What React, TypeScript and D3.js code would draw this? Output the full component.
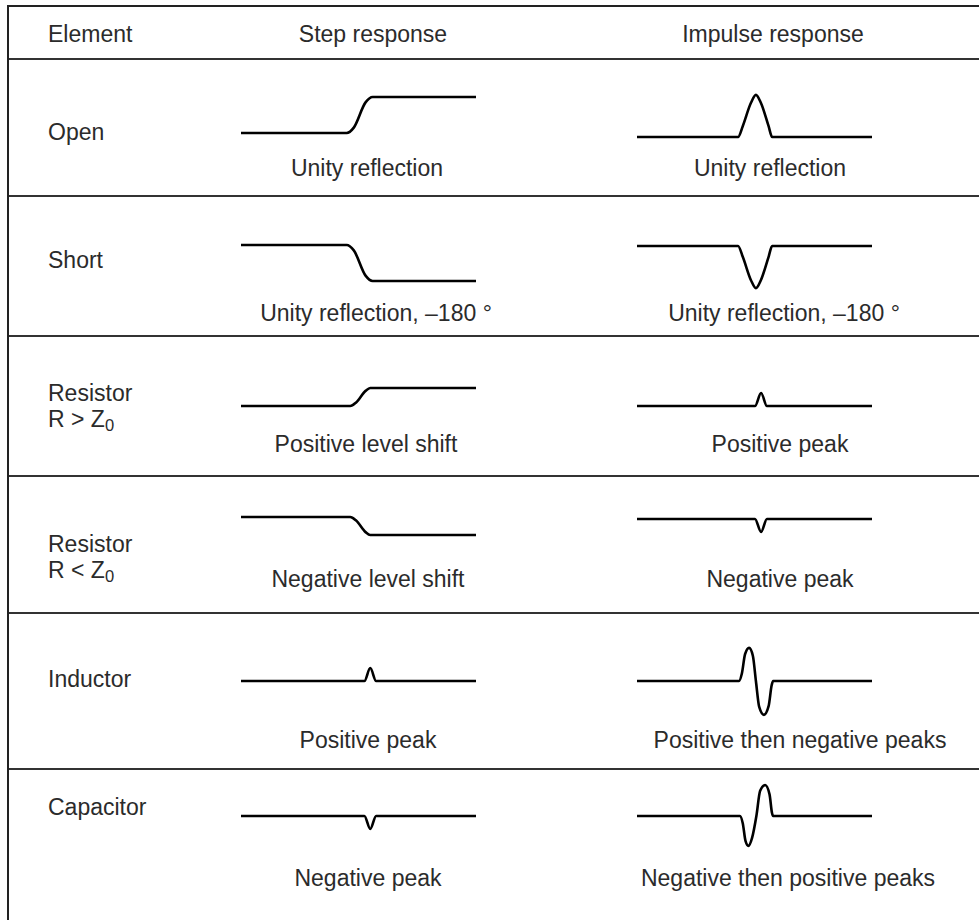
import { useEffect, useRef } from "react";
import * as d3 from "d3";

type Pt = [number, number];

// Table text
const headers = ["Element", "Step response", "Impulse response"];
const elementLabels: string[][] = [
  ["Open"],
  ["Short"],
  ["Resistor", "R > Z_0"],
  ["Resistor", "R < Z_0"],
  ["Inductor"],
  ["Capacitor"],
];
const stepCaptions = [
  "Unity reflection",
  "Unity reflection, \u2013180 \u00b0",
  "Positive level shift",
  "Negative level shift",
  "Positive peak",
  "Negative peak",
];
const impulseCaptions = [
  "Unity reflection",
  "Unity reflection, \u2013180 \u00b0",
  "Positive peak",
  "Negative peak",
  "Positive then negative peaks",
  "Negative then positive peaks",
];

// Waveforms: [time 0..100, level] (level 1 = unity reflection)
const stepWaves: Pt[][] = [
  [[0, 0], [45, 0], [48, 0.15], [53, 0.85], [56, 1], [100, 1]],
  [[0, 0], [45, 0], [48, -0.15], [53, -0.85], [56, -1], [100, -1]],
  [[0, 0], [46.5, 0], [49, 0.1], [53, 0.42], [55, 0.5], [100, 0.5]],
  [[0, 0], [46.5, 0], [49, -0.1], [53, -0.42], [55, -0.5], [100, -0.5]],
  [[0, 0], [52.5, 0], [55, 0.36], [57.5, 0], [100, 0]],
  [[0, 0], [52.5, 0], [55, -0.36], [57.5, 0], [100, 0]],
];
const impulseWaves: Pt[][] = [
  [[0, 0], [43, 0], [45, 0.3], [48.5, 0.95], [50.6, 1.17], [52.7, 0.95], [56, 0.3], [57.5, 0], [100, 0]],
  [[0, 0], [43, 0], [45, -0.3], [48.5, -0.95], [50.6, -1.17], [52.7, -0.95], [56, -0.3], [57.5, 0], [100, 0]],
  [[0, 0], [50.2, 0], [52.8, 0.36], [55.3, 0], [100, 0]],
  [[0, 0], [50.2, 0], [52.8, -0.36], [55.3, 0], [100, 0]],
  [[0, 0], [43.4, 0], [44.6, 0.2], [46, 0.75], [47.7, 0.92], [49.3, 0.7], [50.6, 0], [52, -0.72], [54, -0.94], [56, -0.7], [57.3, -0.12], [57.9, 0], [100, 0]],
  [[0, 0], [43.8, 0], [45, -0.2], [46.2, -0.7], [47.4, -0.83], [49, -0.6], [50.8, 0], [52.4, 0.7], [54.5, 0.86], [56.4, 0.6], [57.4, 0.1], [57.9, 0], [100, 0]],
];

const W = 979;
const H = 920;

const App: React.FC = () => {
  const svgRef = useRef<SVGSVGElement | null>(null);

  useEffect(() => {
    if (!svgRef.current) return;
    const svg = d3.select(svgRef.current);
    svg.selectAll("*").remove();

    const font = "'Liberation Sans', Arial, Helvetica, sans-serif";
    const textColor = "#2b2b2b";
    const fontSize = 23;

    // layout
    const tableTop = 6;
    const headerBottom = 59;
    const rowLines = [59, 196, 336, 476, 613, 769];
    const leftX = 8;
    const elementX = 48;
    const stepCenters = [367, 376, 366, 368, 368, 368];
    const impulseCenters = [770, 784, 780, 780, 800, 788];
    const stepBase = [74, 49, 70, 41, 68, 47];
    const impulseBase = [78, 50, 70, 43, 68, 47];
    const captionY = [109, 117, 108, 103, 127, 109];
    const elementY = [73, 64, 57, 68, 66, 38];
    const amp = 36;

    const xStep = d3.scaleLinear().domain([0, 100]).range([241, 476]);
    const xImp = d3.scaleLinear().domain([0, 100]).range([637, 872]);

    const g = svg.append("g");

    // table rules
    g.append("line")
      .attr("x1", leftX).attr("x2", W).attr("y1", tableTop).attr("y2", tableTop)
      .attr("stroke", "#222").attr("stroke-width", 2);
    rowLines.forEach((y) => {
      g.append("line")
        .attr("x1", leftX).attr("x2", W).attr("y1", y).attr("y2", y)
        .attr("stroke", "#333").attr("stroke-width", 2);
    });
    g.append("line")
      .attr("x1", leftX).attr("x2", leftX).attr("y1", tableTop - 1).attr("y2", H)
      .attr("stroke", "#222").attr("stroke-width", 2);

    const text = (x: number, y: number, s: string, anchor: string) => {
      const t = g.append("text")
        .attr("x", x).attr("y", y)
        .attr("text-anchor", anchor)
        .attr("dominant-baseline", "central")
        .attr("font-family", font)
        .attr("font-size", fontSize)
        .attr("fill", textColor);
      const parts = s.split("_");
      t.append("tspan").text(parts[0]);
      if (parts[1]) {
        t.append("tspan").attr("font-size", fontSize * 0.72).attr("dy", 6).text(parts[1]);
      }
      return t;
    };

    // headers
    const headerY = (tableTop + headerBottom) / 2 + 1;
    text(elementX, headerY, headers[0], "start");
    text(373, headerY, headers[1], "middle");
    text(773, headerY, headers[2], "middle");

    const line = (xs: d3.ScaleLinear<number, number>, ys: d3.ScaleLinear<number, number>) =>
      d3.line<Pt>().x((d) => xs(d[0])).y((d) => ys(d[1])).curve(d3.curveMonotoneX);

    elementLabels.forEach((labels, i) => {
      const top = rowLines[i];
      labels.forEach((l, j) => text(elementX, top + elementY[i] + j * 26, l, "start"));

      const ys = d3.scaleLinear().domain([0, 1]).range([top + stepBase[i], top + stepBase[i] - amp]);
      const yi = d3.scaleLinear().domain([0, 1]).range([top + impulseBase[i], top + impulseBase[i] - amp]);

      g.append("path").datum(stepWaves[i])
        .attr("d", line(xStep, ys))
        .attr("fill", "none").attr("stroke", "#000").attr("stroke-width", 2.6)
        .attr("stroke-linejoin", "round");
      g.append("path").datum(impulseWaves[i])
        .attr("d", line(xImp, yi))
        .attr("fill", "none").attr("stroke", "#000").attr("stroke-width", 2.6)
        .attr("stroke-linejoin", "round");

      text(stepCenters[i], top + captionY[i], stepCaptions[i], "middle");
      text(impulseCenters[i], top + captionY[i], impulseCaptions[i], "middle");
    });
  }, []);

  return (
    <svg
      ref={svgRef}
      width={W}
      height={H}
      style={{ position: "absolute", left: 0, top: 0, background: "#fff" }}
    />
  );
};

export default App;
